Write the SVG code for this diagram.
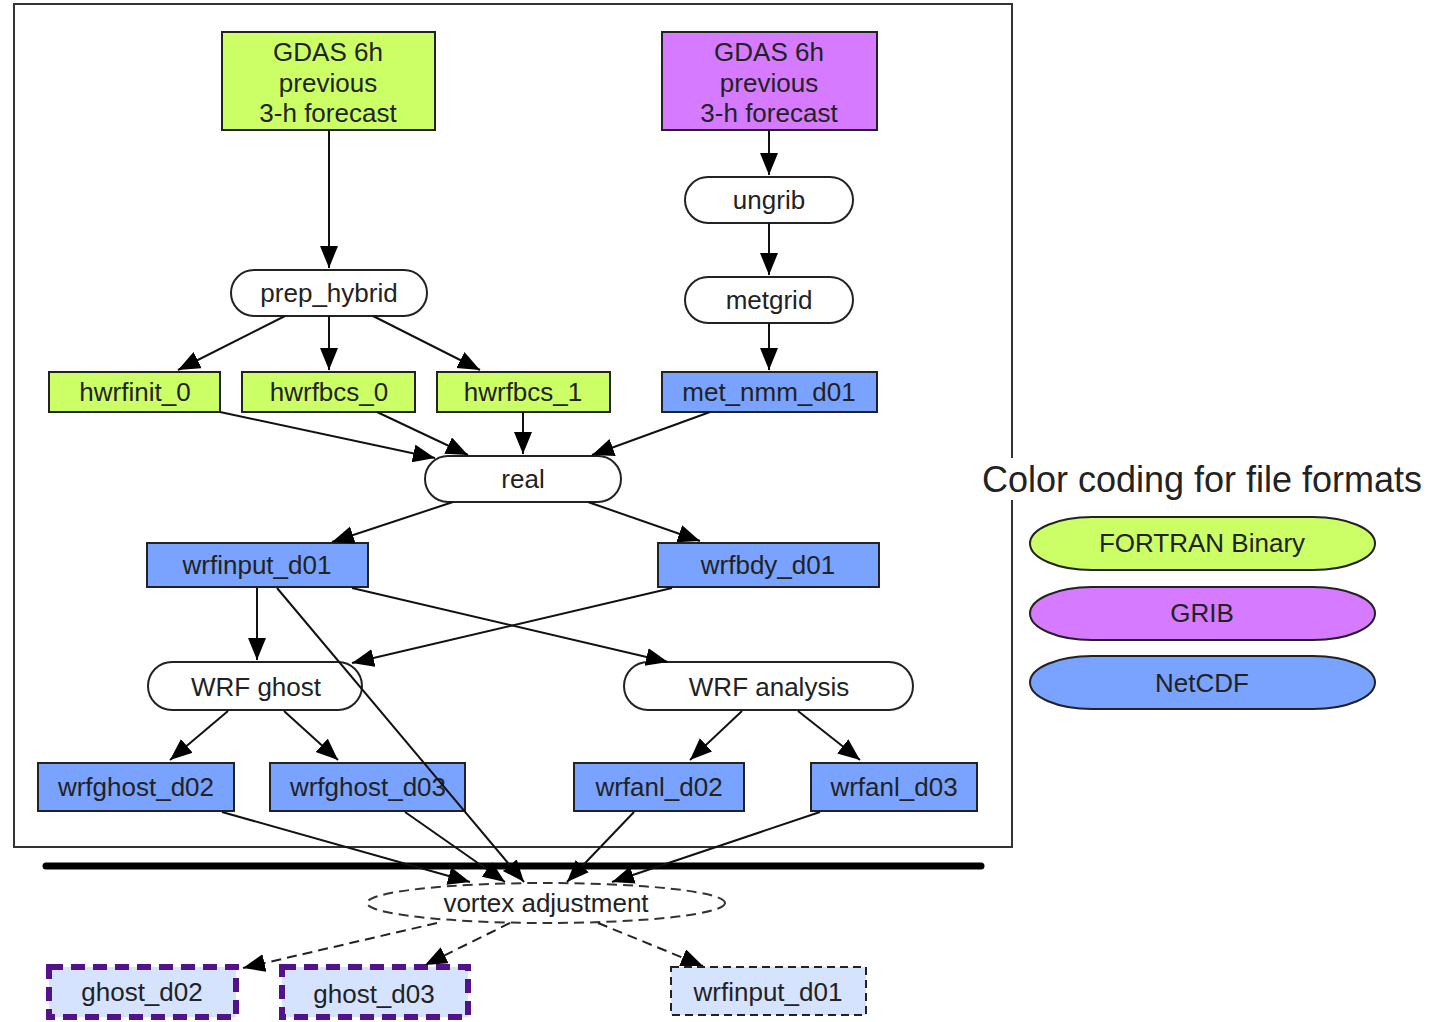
<svg xmlns="http://www.w3.org/2000/svg" width="1430" height="1022" viewBox="0 0 1430 1022">
<style>
text{font-family:"Liberation Sans",Arial,sans-serif;font-size:26px;fill:#222;text-anchor:middle}
.green{fill:#ccff66;stroke:#222;stroke-width:2}
.purple{fill:#d67bff;stroke:#222;stroke-width:2}
.blue{fill:#79a3ff;stroke:#222;stroke-width:2}
.proc{fill:#fff;stroke:#222;stroke-width:2}
.out{fill:#d5e3ff;stroke:#52138a;stroke-width:6;stroke-dasharray:14,8}
.outd{fill:#d5e3ff;stroke:#222;stroke-width:2;stroke-dasharray:8,5}
.edge{fill:none;stroke:#111;stroke-width:2;marker-end:url(#arr)}
.dedge{fill:none;stroke:#222;stroke-width:2;stroke-dasharray:10,6;marker-end:url(#arr)}
</style>
<defs>
<marker id="arr" markerUnits="userSpaceOnUse" markerWidth="24" markerHeight="20" refX="22" refY="9" orient="auto">
<path d="M0,0 L22,9 L0,18 z" fill="#000"/>
</marker>
</defs>
<rect x="0" y="0" width="1430" height="1022" fill="#fff"/>
<rect id="frame" x="14" y="4" width="998" height="843" fill="none" stroke="#333" stroke-width="2"/>
<line id="bar" x1="46" y1="866" x2="981" y2="866" stroke="#000" stroke-width="7" stroke-linecap="round"/>

<g id="gdas_green"><rect class="green" x="222" y="32" width="213" height="98"/>
<text x="328" y="61">GDAS 6h</text><text x="328" y="92">previous</text><text x="328" y="122">3-h forecast</text></g>
<g id="gdas_grib"><rect class="purple" x="662" y="32" width="215" height="98"/>
<text x="769" y="61">GDAS 6h</text><text x="769" y="92">previous</text><text x="769" y="122">3-h forecast</text></g>
<g id="ungrib"><rect class="proc" x="685" y="177" width="168" height="46" rx="23"/><text x="769" y="209">ungrib</text></g>
<g id="metgrid"><rect class="proc" x="685" y="277" width="168" height="46" rx="23"/><text x="769" y="309">metgrid</text></g>
<g id="met_nmm_d01"><rect class="blue" x="662" y="372" width="215" height="40"/><text x="769" y="401">met_nmm_d01</text></g>
<g id="prep_hybrid"><rect class="proc" x="231" y="270" width="196" height="46" rx="23"/><text x="329" y="302">prep_hybrid</text></g>
<g id="hwrfinit_0"><rect class="green" x="49" y="372" width="171" height="40"/><text x="135" y="401">hwrfinit_0</text></g>
<g id="hwrfbcs_0"><rect class="green" x="242" y="372" width="173" height="40"/><text x="329" y="401">hwrfbcs_0</text></g>
<g id="hwrfbcs_1"><rect class="green" x="437" y="372" width="173" height="40"/><text x="523" y="401">hwrfbcs_1</text></g>
<g id="real"><rect class="proc" x="425" y="456" width="196" height="46" rx="23"/><text x="523" y="488">real</text></g>
<g id="wrfinput_d01"><rect class="blue" x="147" y="543" width="221" height="44"/><text x="257" y="574">wrfinput_d01</text></g>
<g id="wrfbdy_d01"><rect class="blue" x="658" y="543" width="221" height="44"/><text x="768" y="574">wrfbdy_d01</text></g>
<g id="wrf_ghost"><rect class="proc" x="148" y="662" width="214" height="48" rx="24"/><text x="256" y="696">WRF ghost</text></g>
<g id="wrf_analysis"><rect class="proc" x="624" y="662" width="289" height="48" rx="24"/><text x="769" y="696">WRF analysis</text></g>
<g id="wrfghost_d02"><rect class="blue" x="38" y="763" width="196" height="48"/><text x="136" y="796">wrfghost_d02</text></g>
<g id="wrfghost_d03"><rect class="blue" x="270" y="763" width="195" height="48"/><text x="368" y="796">wrfghost_d03</text></g>
<g id="wrfanl_d02"><rect class="blue" x="574" y="763" width="170" height="48"/><text x="659" y="796">wrfanl_d02</text></g>
<g id="wrfanl_d03"><rect class="blue" x="811" y="763" width="166" height="48"/><text x="894" y="796">wrfanl_d03</text></g>
<g id="vortex_adjustment"><ellipse cx="546" cy="903" rx="179" ry="20" fill="#fff" stroke="#333" stroke-width="2" stroke-dasharray="10,6"/><text x="546" y="912">vortex adjustment</text></g>
<g id="ghost_d02"><rect class="out" x="49" y="967" width="187" height="50"/><text x="142" y="1001">ghost_d02</text></g>
<g id="ghost_d03"><rect class="out" x="282" y="967" width="186" height="50"/><text x="374" y="1003">ghost_d03</text></g>
<g id="wrfinput_d01_out"><rect class="outd" x="671" y="967" width="195" height="48"/><text x="768" y="1001">wrfinput_d01</text></g>

<g id="connectors">
<line class="edge" x1="329" y1="130" x2="329" y2="268"/>
<line class="edge" x1="769" y1="130" x2="769" y2="175"/>
<line class="edge" x1="769" y1="223" x2="769" y2="275"/>
<line class="edge" x1="769" y1="323" x2="769" y2="370"/>
<line class="edge" x1="285" y1="316" x2="178" y2="370"/>
<line class="edge" x1="329" y1="316" x2="329" y2="370"/>
<line class="edge" x1="373" y1="316" x2="480" y2="370"/>
<line class="edge" x1="220" y1="412" x2="435" y2="458"/>
<line class="edge" x1="377" y1="412" x2="468" y2="455"/>
<line class="edge" x1="523" y1="412" x2="523" y2="454"/>
<line class="edge" x1="710" y1="412" x2="592" y2="455"/>
<line class="edge" x1="453" y1="502" x2="332" y2="542"/>
<line class="edge" x1="588" y1="502" x2="700" y2="541"/>
<line class="edge" x1="257" y1="588" x2="257" y2="660"/>
<line class="edge" x1="672" y1="588" x2="352" y2="663"/>
<line class="edge" x1="352" y1="588" x2="668" y2="662"/>
<line class="edge" x1="277" y1="588" x2="524" y2="882"/>
<line class="edge" x1="228" y1="711" x2="170" y2="760"/>
<line class="edge" x1="284" y1="711" x2="338" y2="760"/>
<line class="edge" x1="742" y1="711" x2="690" y2="760"/>
<line class="edge" x1="798" y1="711" x2="860" y2="760"/>
<line class="edge" x1="222" y1="812" x2="470" y2="882"/>
<line class="edge" x1="405" y1="812" x2="505" y2="882"/>
<line class="edge" x1="634" y1="812" x2="567" y2="882"/>
<line class="edge" x1="820" y1="812" x2="612" y2="882"/>
<line class="dedge" x1="437" y1="923" x2="243" y2="968"/>
<line class="dedge" x1="510" y1="923" x2="425" y2="965"/>
<line class="dedge" x1="598" y1="923" x2="703" y2="966"/>
</g>

<g id="legend">
<rect x="978" y="458" width="450" height="42" fill="#fff"/>
<text x="1202" y="492" style="font-size:36px">Color coding for file formats</text>
<rect class="green" x="1030" y="517" width="345" height="53" rx="62" ry="26.5"/><text x="1202" y="552">FORTRAN Binary</text>
<rect class="purple" x="1030" y="587" width="345" height="53" rx="62" ry="26.5"/><text x="1202" y="622">GRIB</text>
<rect class="blue" x="1030" y="656" width="345" height="53" rx="62" ry="26.5"/><text x="1202" y="692">NetCDF</text>
</g>
</svg>
